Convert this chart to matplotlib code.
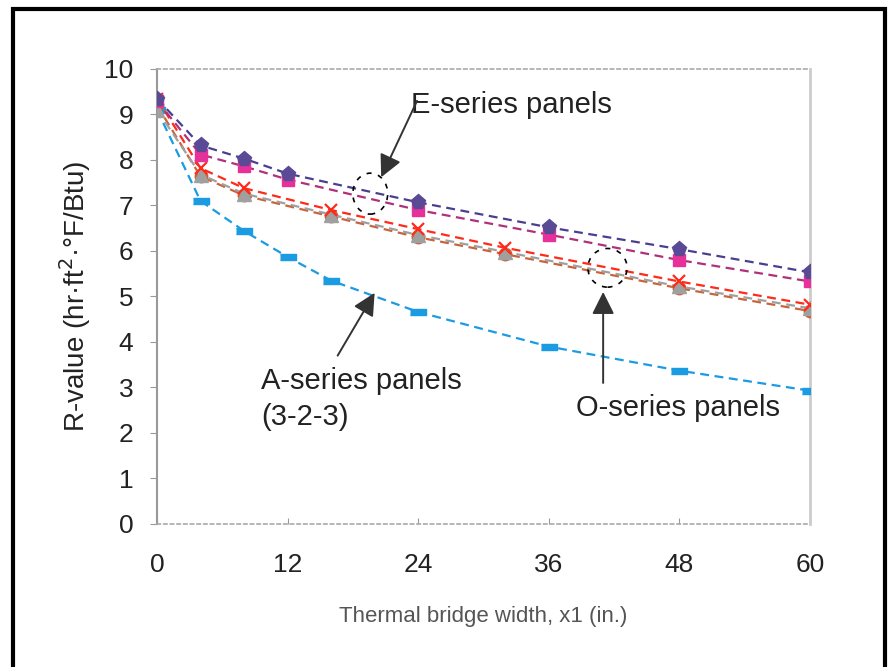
import matplotlib
matplotlib.use('Agg')
import matplotlib.pyplot as plt
from matplotlib.patches import Ellipse, Rectangle
import numpy as np

plt.rcParams['font.family'] = ['Liberation Sans', 'DejaVu Sans']

# E-series panels
x_e = [0, 4, 8, 12, 24, 36, 48, 60]
e_one = [9.35, 8.32, 8.03, 7.7, 7.07, 6.52, 6.04, 5.53]
e_two = [9.3, 8.12, 7.86, 7.57, 6.9, 6.36, 5.8, 5.33]

# O-series panels
x_o = [0, 4, 8, 16, 24, 32, 48, 60]
o_red = [9.35, 7.82, 7.38, 6.9, 6.48, 6.07, 5.33, 4.82]
o_gray = [9.1, 7.68, 7.26, 6.8, 6.35, 5.98, 5.22, 4.74]
o_brown = [9.2, 7.64, 7.22, 6.76, 6.3, 5.93, 5.18, 4.68]

# A-series panels (3-2-3)
x_a = [0, 4, 8, 12, 16, 24, 36, 48, 60]
a_vals = [9.1, 7.1, 6.44, 5.87, 5.35, 4.66, 3.9, 3.37, 2.93]

x_ticks = [0, 12, 24, 36, 48, 60]
y_ticks = list(range(0, 11))

fig = plt.figure(figsize=(8.9, 6.67), dpi=100)
ax = fig.add_axes([0.1764, 0.2144, 0.7336, 0.6822])

# outer frame
fig.add_artist(Rectangle((0.0146, -0.05), 0.98, 1.0365, transform=fig.transFigure,
                         fill=False, edgecolor='black', lw=3))

bar_marker = [(-2, -0.9), (2, -0.9), (2, 0.9), (-2, 0.9)]
dash = (0, (4, 2.5))

ax.plot(x_a, a_vals, color='#1a9be2', ls=dash, lw=1.6,
        marker=bar_marker, ms=11, zorder=3)
ax.plot(x_o, o_brown, color='#c8643c', ls=dash, lw=1.6,
        marker='o', ms=9, zorder=3)
ax.plot(x_o, o_gray, color='#a0a0a0', ls=dash, lw=1.6,
        marker='^', ms=10, zorder=4)
ax.plot(x_o, o_red, color='#ff2a1a', ls=dash, lw=1.6,
        marker='x', ms=9, mew=1.6, zorder=4)
ax.plot(x_e, e_two, color='#b0307a', ls=dash, lw=1.6,
        marker='s', ms=9, mfc='#e8309a', mec='#e8309a', zorder=4)
ax.plot(x_e, e_one, color='#4a3f8e', ls=dash, lw=1.6,
        marker='p', ms=11, mfc='#5a4a96', mec='#5a4a96', zorder=5)

# dashed ellipses
ax.add_patch(Ellipse((19.6, 7.26), 3.2, 0.9, fill=False, ec='black',
                     ls=(0, (3, 4)), lw=1.2, zorder=6))
ax.add_patch(Ellipse((41.4, 5.63), 3.6, 0.85, fill=False, ec='black',
                     ls=(0, (3, 4)), lw=1.2, zorder=6))

arrow = dict(arrowstyle='-|>', color='#333333', lw=1.4, mutation_scale=34,
             shrinkA=0, shrinkB=0)
ax.annotate('', xy=(20.6, 7.62), xytext=(23.9, 9.3), arrowprops=arrow, zorder=7)
ax.annotate('', xy=(41.0, 5.1), xytext=(41.0, 3.1), arrowprops=arrow, zorder=7)
ax.annotate('', xy=(20.0, 5.08), xytext=(16.6, 3.7), arrowprops=arrow, zorder=7)

ax.text(23.3, 9.2, 'E-series panels', fontsize=21, va='center', ha='left', color='#222222')
ax.text(38.5, 2.55, 'O-series panels', fontsize=21, va='center', ha='left', color='#222222')
ax.text(9.6, 2.75, 'A-series panels\n(3-2-3)', fontsize=21, va='center', ha='left',
        color='#222222', linespacing=1.35)

ax.set_xlim(0, 60)
ax.set_ylim(0, 10)
ax.set_xticks(x_ticks)
ax.set_yticks(y_ticks)
ax.tick_params(axis='y', direction='out', length=5, color='#999999',
               labelsize=19, pad=12, labelcolor='#222222')
ax.tick_params(axis='x', direction='in', length=4, color='#999999',
               labelsize=19, pad=21, labelcolor='#222222')

ax.set_xlabel('Thermal bridge width, x1 (in.)', fontsize=16, color='#555555', labelpad=21)
ax.set_ylabel('R-value (hr·ft$^2$·°F/Btu)', fontsize=20, color='#222222', labelpad=8)

for side in ['top', 'bottom']:
    ax.spines[side].set_linestyle((0, (2, 2)))
    ax.spines[side].set_color('#aaaaaa')
    ax.spines[side].set_linewidth(1.2)
ax.spines['left'].set_color('#999999')
ax.spines['left'].set_linewidth(1.5)
ax.spines['right'].set_color('#cccccc')
ax.spines['right'].set_linewidth(2)

fig.savefig('out.png', dpi=100)
